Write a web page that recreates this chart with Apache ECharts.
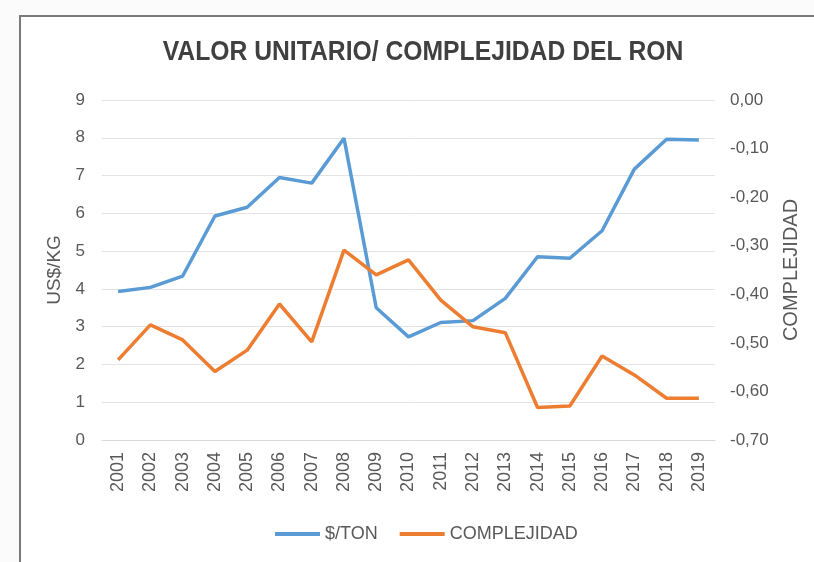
<!DOCTYPE html>
<html>
<head>
<meta charset="utf-8">
<style>
  html, body { margin: 0; padding: 0; background: #fbfbfb; }
  #chart { width: 814px; height: 562px; }
</style>
<script src="https://cdn.jsdelivr.net/npm/echarts@6/dist/echarts.min.js"></script>
</head>
<body>
<div id="chart"></div>
<script>
// Years on the category axis
const years = ['2001','2002','2003','2004','2005','2006','2007','2008','2009','2010',
               '2011','2012','2013','2014','2015','2016','2017','2018','2019'];
// Unit value of rum exports (US$/KG), left axis
const valorTon = [3.93, 4.04, 4.34, 5.93, 6.16, 6.95, 6.80, 7.99, 3.50, 2.73,
                  3.11, 3.16, 3.75, 4.85, 4.81, 5.54, 7.17, 7.96, 7.94];
// Product complexity index, right axis
const complejidad = [-0.535, -0.463, -0.494, -0.559, -0.515, -0.420, -0.498, -0.309, -0.360, -0.329,
                     -0.412, -0.467, -0.479, -0.633, -0.630, -0.527, -0.566, -0.614, -0.614];

const FONT = "'Liberation Sans', Arial, sans-serif";
const TXT = '#595959';

const chart = echarts.init(document.getElementById('chart'), null, { renderer: 'canvas' });
chart.setOption({
  backgroundColor: '#fbfbfb',
  animation: false,
  graphic: [{
    type: 'rect',
    z: -10,
    shape: { x: 20, y: 16, width: 830, height: 580 },
    style: { fill: '#ffffff', stroke: '#7a7a7a', lineWidth: 2 }
  }, {
    // chart title, drawn slightly condensed
    type: 'text',
    x: 423,
    y: 53,
    scaleX: 0.915,
    style: {
      text: 'VALOR UNITARIO/ COMPLEJIDAD DEL RON',
      fontFamily: FONT,
      fontSize: 27,
      fontWeight: 'bold',
      fill: '#404040',
      align: 'center',
      verticalAlign: 'middle'
    }
  }],
  grid: { left: 102, right: 99, top: 100, bottom: 122, containLabel: false },
  legend: {
    top: 520,
    left: 270,
    icon: 'rect',
    itemWidth: 45,
    itemHeight: 4,
    itemGap: 22,
    textStyle: { fontFamily: FONT, fontSize: 18, color: TXT },
    data: ['$/TON', 'COMPLEJIDAD']
  },
  xAxis: {
    type: 'category',
    data: years,
    boundaryGap: true,
    axisLine: { show: true, lineStyle: { color: '#d9d9d9', width: 1 } },
    axisTick: { show: false },
    axisLabel: { rotate: 90, margin: 12, fontFamily: FONT, fontSize: 18, color: TXT }
  },
  yAxis: [{
    type: 'value',
    min: 0, max: 9, interval: 1,
    name: 'US$/KG',
    nameLocation: 'middle',
    nameGap: 28,
    nameRotate: 90,
    nameTextStyle: { fontFamily: FONT, fontSize: 19, color: TXT },
    axisLine: { show: false },
    axisTick: { show: false },
    axisLabel: { margin: 17, fontFamily: FONT, fontSize: 17, color: TXT },
    splitLine: { lineStyle: { color: '#e3e3e3', width: 1 } }
  }, {
    type: 'value',
    min: -0.7, max: 0, interval: 0.1,
    position: 'right',
    name: 'COMPLEJIDAD',
    nameLocation: 'middle',
    nameGap: 66,
    nameRotate: 90,
    nameTextStyle: { fontFamily: FONT, fontSize: 20, color: TXT },
    axisLine: { show: false },
    axisTick: { show: false },
    axisLabel: {
      margin: 15, fontFamily: FONT, fontSize: 17, color: TXT,
      formatter: v => v.toFixed(2).replace('.', ',')
    },
    splitLine: { show: false }
  }],
  series: [{
    name: '$/TON',
    type: 'line',
    yAxisIndex: 0,
    data: valorTon,
    symbol: 'none',
    lineStyle: { color: '#5b9bd5', width: 3.5 },
    itemStyle: { color: '#5b9bd5' }
  }, {
    name: 'COMPLEJIDAD',
    type: 'line',
    yAxisIndex: 1,
    data: complejidad,
    symbol: 'none',
    lineStyle: { color: '#ed7d31', width: 3.5 },
    itemStyle: { color: '#ed7d31' }
  }]
});
</script>
</body>
</html>
